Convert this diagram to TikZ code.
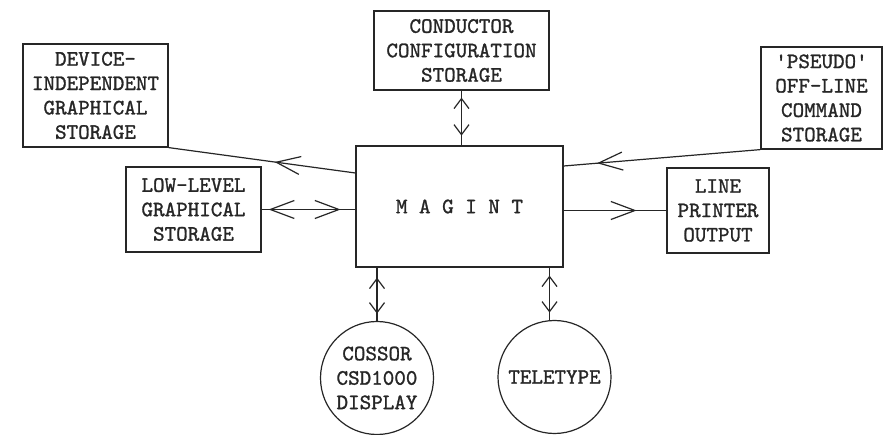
\documentclass[tikz,border=0pt]{standalone}
\usepackage{fontspec}
\newfontfamily\typew{lmmono10-regular.otf}[FakeBold=1.2]
\usetikzlibrary{arrows.meta,decorations.markings,calc}
\begin{document}
\begin{tikzpicture}[x=1pt,y=-1pt,
  every node/.style={font=\typew\fontsize{22}{24.4}\selectfont, text=black!85, align=center, inner sep=0pt},
  boxnode/.style={draw=black!85, line width=1.2pt, rectangle},
  disc/.style={draw=black!85, line width=1.2pt, circle, minimum size=113pt},
  conn/.style={draw=black!85, line width=1.2pt},
  bigfwd/.style={postaction={decorate}, decoration={markings, mark=at position #1 with {\arrow[black!85,line width=1.2pt]{Straight Barb[length=24pt,width=18pt]}}}},
  bigrev/.style={postaction={decorate}, decoration={markings, mark=at position #1 with {\arrowreversed[black!85,line width=1.2pt]{Straight Barb[length=24pt,width=18pt]}}}},
  smallfwd/.style={postaction={decorate}, decoration={markings, mark=at position #1 with {\arrow[black!85,line width=1.2pt]{Straight Barb[length=10pt,width=15pt]}}}},
  smallrev/.style={postaction={decorate}, decoration={markings, mark=at position #1 with {\arrowreversed[black!85,line width=1.2pt]{Straight Barb[length=10pt,width=15pt]}}}},
]
\useasboundingbox (0,0) rectangle (884,435);
\fill[white] (0,0) rectangle (884,435);

\node[boxnode, minimum width=145pt, minimum height=103pt] (dev) at (95.5,95.5) {DEVICE-\\INDEPENDENT\\GRAPHICAL\\STORAGE};
\node[boxnode, minimum width=175pt, minimum height=79pt] (cond) at (461.5,50.5) {CONDUCTOR\\CONFIGURATION\\STORAGE};
\node[boxnode, minimum width=121pt, minimum height=102pt] (pse) at (821.5,98) {'PSEUDO'\\OFF-LINE\\COMMAND\\STORAGE};
\node[boxnode, minimum width=135pt, minimum height=85pt] (low) at (193.5,209.5) {LOW-LEVEL\\GRAPHICAL\\STORAGE};
\node[boxnode, minimum width=207pt, minimum height=121pt] (mag) at (459.5,206.5) {M A G I N T};
\node[boxnode, minimum width=102pt, minimum height=85pt] (lp) at (718,210.5) {LINE\\PRINTER\\OUTPUT};
\node[disc] (cos) at (377,378) {COSSOR\\CSD1000\\DISPLAY};
\node[disc] (tel) at (554.5,377) {TELETYPE};

% device-independent <- MAGINT
\coordinate (magdev) at ([yshift=33.5pt]mag.west);
\path[conn, bigrev=107pt] (dev.south east) -- (magdev);
% low-level <-> MAGINT
\coordinate (maglow) at (low.east -| mag.west);
\path[conn, bigrev=7pt] (low.east) -- (maglow);
\path[bigfwd=79pt] (low.east) -- (maglow);
% pseudo -> MAGINT
\coordinate (magpse) at ([yshift=40.5pt]mag.east);
\path[conn, bigfwd=164pt] (pse.south west) -- (magpse);
% MAGINT -> line printer
\coordinate (maglp) at (lp.west -| mag.east);
\path[conn, bigfwd=73pt] (maglp) -- (lp.west);
% conductor <-> MAGINT
\coordinate (magcond) at (cond.south |- mag.north);
\path[conn, smallrev=7pt] (cond.south) -- (magcond);
\path[smallfwd=45pt] (cond.south) -- (magcond);
% cossor <-> MAGINT
\coordinate (magcos) at (cos.north |- mag.south);
\path[conn, smallrev=10pt] (magcos) -- (cos.north);
\path[smallfwd=46pt] (magcos) -- (cos.north);
% teletype <-> MAGINT
\coordinate (magtel) at (tel.95.6 |- mag.south);
\path[conn, smallrev=8pt] (magtel) -- (tel.95.6);
\path[smallfwd=45pt] (magtel) -- (tel.95.6);
\end{tikzpicture}
\end{document}
